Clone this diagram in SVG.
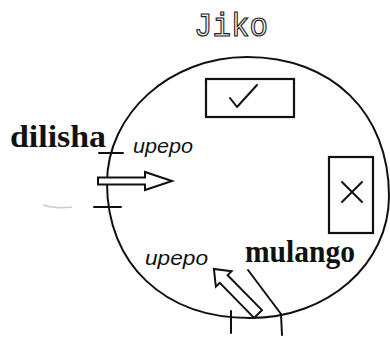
<svg xmlns="http://www.w3.org/2000/svg" width="390" height="337" viewBox="0 0 390 337">
<style>
.ln{fill:none;stroke:#111;stroke-width:2;stroke-linecap:round;stroke-linejoin:round}
.box{fill:none;stroke:#111;stroke-width:2.2}
.hollow{fill:#fff;stroke:#111;stroke-width:2;stroke-linejoin:miter}
.lbl{font-family:"Liberation Serif",serif;font-weight:bold;fill:#111}
.it{font-family:"Liberation Sans",Arial,sans-serif;font-style:italic;fill:#111}
</style>
<rect width="390" height="337" fill="#fff"/>
<g id="title">
<text x="194" y="36" font-family="'Liberation Mono','Courier New',monospace" font-size="34" fill="#f2f2f2" stroke="#222" stroke-width="1.2" textLength="74" lengthAdjust="spacingAndGlyphs">Jiko</text>
</g>
<g id="jiko-body">
<path class="ln" d="M247,57 C332,57 389,113 389,196 C389,264 328,318 250,318 C164,318 107,264 107,183 C107,114 170,57 247,57 Z"/>
</g>
<g id="good-box">
<rect class="box" x="206" y="79" width="88" height="38"/>
<path class="ln" stroke-width="2.5" d="M230,98 L237,107 L257,85"/>
</g>
<g id="bad-box">
<rect class="box" x="329" y="157" width="44" height="76"/>
<path class="ln" d="M342,182 L362,202 M362,182 L342,202"/>
</g>
<g id="dilisha">
<text class="lbl" x="10" y="147" font-size="32" textLength="96" lengthAdjust="spacingAndGlyphs">dilisha</text>
<text class="it" x="133" y="153" font-size="20.5" textLength="60" lengthAdjust="spacingAndGlyphs">upepo</text>
</g>
<g id="mulango">
<text class="lbl" x="245" y="262" font-size="31" textLength="110" lengthAdjust="spacingAndGlyphs">mulango</text>
<text class="it" x="145" y="265" font-size="21" textLength="63" lengthAdjust="spacingAndGlyphs">upepo</text>
</g>
<g id="connectors">
<path class="ln" d="M99,153 L123,153 M94,207 L121,207"/>
<polygon class="hollow" points="98,177.5 145,177.5 145,172 172,181 145,190 145,184.5 98,184.5"/>
<path class="ln" d="M231,311 L231,333 M248,270 L281,314 L282,335"/>
<polygon class="hollow" transform="translate(258,314) rotate(-134.4)" points="0,-5.5 49,-5.5 49,-11 63,0 49,11 49,5.5 0,5.5"/>
<path d="M43,205 Q55,209 72,207" fill="none" stroke="#ccc" stroke-width="1.5"/>
</g>
</svg>
